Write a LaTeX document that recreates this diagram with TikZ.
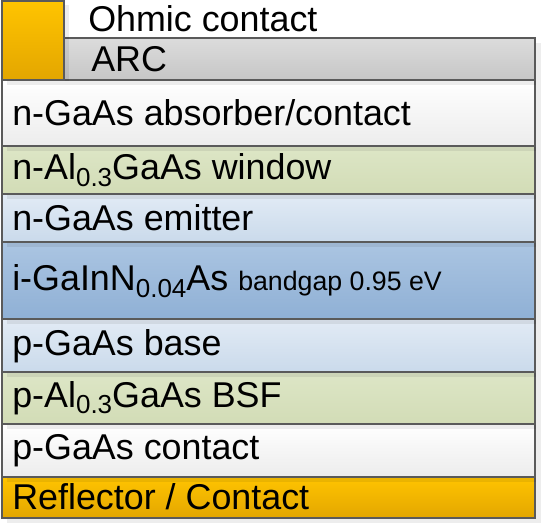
\documentclass[tikz,border=0pt]{standalone}
\usepackage{fontspec}
\setmainfont{Liberation Sans}
\usepackage{tikz}

\definecolor{edge}{HTML}{5A5A5A}
\definecolor{orngtop}{HTML}{FFC400}
\definecolor{orngbot}{HTML}{E3A600}
\definecolor{arctop}{HTML}{DCDCDC}
\definecolor{arcbot}{HTML}{C6C6C6}
\definecolor{whtop}{HTML}{FFFFFF}
\definecolor{whbot}{HTML}{ECECEC}
\definecolor{grntop}{HTML}{DDE6C6}
\definecolor{grnbot}{HTML}{D2DCB6}
\definecolor{lbtop}{HTML}{E2EBF5}
\definecolor{lbbot}{HTML}{CADAEB}
\definecolor{bltop}{HTML}{ABC5E2}
\definecolor{blbot}{HTML}{8FB0D5}

\newcommand\lowtxt[1]{\raisebox{-0.35ex}{\fontsize{18.5}{18}\selectfont #1}}

\begin{document}
\begin{tikzpicture}[x=0.025cm,y=-0.025cm,
  layer/.style={draw=edge,line width=1pt},
  shd/.style={fill=black,opacity=0.07},
  lbl/.style={anchor=west,inner sep=0pt,font=\fontsize{25.5}{30}\selectfont}]

  \useasboundingbox (0,0) rectangle (542,525);

  % Reflector / Contact
  \fill[shd] (7,482) rectangle (541,523);
  \shadedraw[layer,top color=orngtop,bottom color=orngbot] (2,477) rectangle (535,518);

  % p-GaAs contact
  \fill[shd] (7,429) rectangle (541,482);
  \shadedraw[layer,top color=whtop,bottom color=whbot] (2,424) rectangle (535,477);

  % BSF
  \fill[shd] (7,377) rectangle (541,429);
  \shadedraw[layer,top color=grntop,bottom color=grnbot] (2,372) rectangle (535,424);

  % base
  \fill[shd] (7,324) rectangle (541,377);
  \shadedraw[layer,top color=lbtop,bottom color=lbbot] (2,319) rectangle (535,372);

  % GaInNAs (absorber 0.95 eV)
  \fill[shd] (7,247) rectangle (541,324);
  \shadedraw[layer,top color=bltop,bottom color=blbot] (2,242) rectangle (535,319);

  % emitter
  \fill[shd] (7,199) rectangle (541,247);
  \shadedraw[layer,top color=lbtop,bottom color=lbbot] (2,194) rectangle (535,242);

  % window
  \fill[shd] (7,151) rectangle (541,199);
  \shadedraw[layer,top color=grntop,bottom color=grnbot] (2,146) rectangle (535,194);

  % n-GaAs absorber/contact
  \fill[shd] (7,85) rectangle (541,151);
  \shadedraw[layer,top color=whtop,bottom color=whbot] (2,80) rectangle (535,146);

  % ARC
  \fill[shd] (69,43) rectangle (541,85);
  \shadedraw[layer,top color=arctop,bottom color=arcbot] (64,38) rectangle (535,80);

  % ohmic contact (finger)
  \fill[shd] (7,5) rectangle (69,85);
  \shadedraw[layer,top color=orngtop,bottom color=orngbot] (2,1) rectangle (64,80);

  % labels
  \node[lbl] (ohm) at (88,19) {Ohmic contact};
  \node[lbl] (arc) at (91,59) {ARC};
  \node[lbl] (nabs) at (12,113) {n-GaAs absorber/contact};
  \node[lbl] (win) at (12,170) {n-Al\lowtxt{0.3}GaAs window};
  \node[lbl] (emit) at (12,218) {n-GaAs emitter};
  \node[lbl] (gin) at (12,281)
    {i-GaInN\lowtxt{0.04}As {\fontsize{19}{20}\selectfont bandgap 0.95 eV}};
  \node[lbl] (base) at (12,346) {p-GaAs base};
  \node[lbl] (bsf) at (12,398) {p-Al\lowtxt{0.3}GaAs BSF};
  \node[lbl] (pcon) at (12,451) {p-GaAs contact};
  \node[lbl] (refl) at (12,497) {Reflector / Contact};

\end{tikzpicture}
\end{document}
